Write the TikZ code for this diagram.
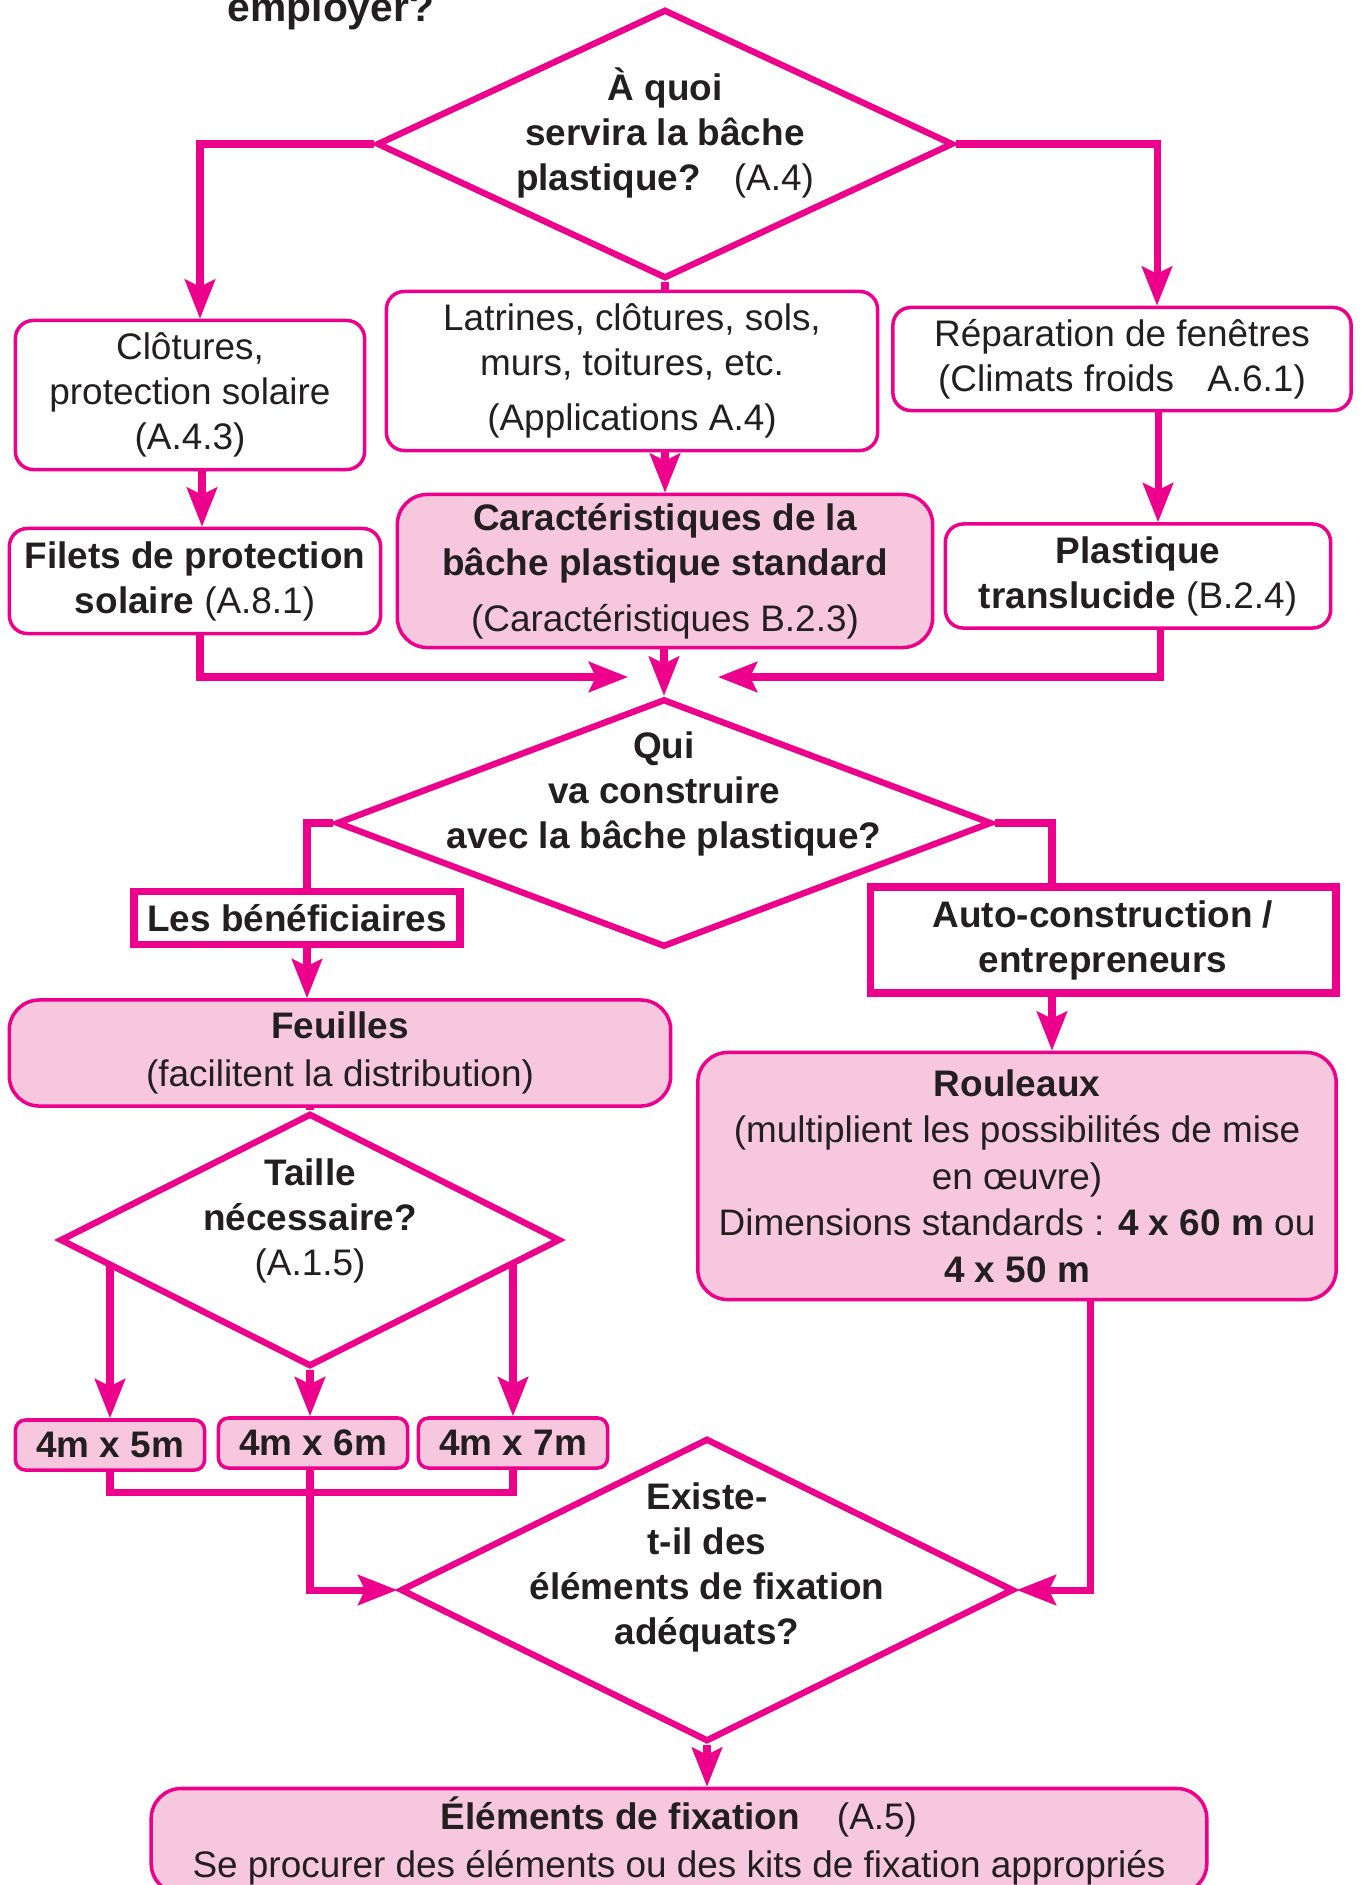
\documentclass[tikz,border=0pt]{standalone}
\usepackage{fontspec}
\setmainfont{Liberation Sans}
\usetikzlibrary{shapes.geometric,arrows.meta,backgrounds}
\definecolor{magline}{RGB}{236,0,140}
\definecolor{magfill}{RGB}{247,200,221}
\definecolor{ink}{RGB}{35,31,32}

\begin{document}
\begin{tikzpicture}[x=0.01cm, y=-0.01cm,
        every node/.style = {text=ink, font=\fontsize{10.5}{12.8}\selectfont},
        link/.style = {draw=magline, line width=2pt},
        arrow/.style = {link, -{Stealth[length=3.9mm,width=3mm,inset=0.7mm]}},
        question/.style = {diamond, draw=magline, fill=white, line width=1.8pt, inner sep=0pt},
        qtext/.style = {align=center, inner sep=0pt, font=\fontsize{10.5}{12.8}\selectfont\bfseries},
        plainbox/.style = {rectangle, rounded corners=1.8mm, draw=magline, fill=white, line width=1pt, align=center, inner sep=2pt},
        pinkbox/.style = {plainbox, fill=magfill, rounded corners=3mm},
        sizebox/.style = {plainbox, fill=magfill, rounded corners=1mm, inner sep=1pt, minimum width=1.89cm, minimum height=0.5cm, font=\fontsize{10.5}{12.8}\selectfont\bfseries},
        choice/.style = {rectangle, draw=magline, fill=white, line width=2.2pt, align=center, inner sep=1pt}]
    \useasboundingbox (0,0) rectangle (1360,1885);

    \node[anchor=base, font=\fontsize{11.6}{14}\selectfont\bfseries] (title) at (331,22) {employer?};

    \node[question, minimum width=5.76cm, minimum height=2.69cm,
        label={[qtext,yshift=1.15mm]center:À quoi\\servira la bâche\\plastique?\hspace{0.9em}\textmd{(A.4)}}] (usage) at (665,144) {};
    \node[plainbox, minimum width=3.49cm, minimum height=1.49cm] (cloture) at (190,395)
        {Clôtures,\\protection solaire\\(A.4.3)};
    \node[plainbox, minimum width=4.91cm, minimum height=1.59cm] (latrine) at (632,371)
        {Latrines, clôtures, sols,\\murs, toitures, etc.\\[3pt](Applications A.4)};
    \node[plainbox, minimum width=4.58cm, minimum height=1.03cm] (repair) at (1122,359)
        {Réparation de fenêtres\\(Climats froids\hspace{0.9em}A.6.1)};
    \node[plainbox, minimum width=3.71cm, minimum height=1.05cm] (filets) at (195,581)
        {\textbf{Filets de protection}\\\textbf{solaire} (A.8.1)};
    \node[pinkbox, minimum width=5.35cm, minimum height=1.53cm] (charact) at (665,571)
        {\textbf{Caractéristiques de la}\\\textbf{bâche plastique standard}\\[3pt](Caractéristiques B.2.3)};
    \node[plainbox, minimum width=3.85cm, minimum height=1.04cm] (transl) at (1138,576)
        {\textbf{Plastique}\\\textbf{translucide} (B.2.4)};
    \coordinate (mergeL) at (628,677);
    \coordinate (mergeR) at (718,677);

    \node[question, minimum width=6.55cm, minimum height=2.48cm,
        label={[qtext,yshift=2.9mm]center:Qui\\va construire\\avec la bâche plastique?}] (builder) at (664,823) {};
    \node[choice, minimum width=3.26cm, minimum height=0.53cm] (benef) at (297,918)
        {\textbf{Les bénéficiaires}};
    \node[choice, minimum width=4.65cm, minimum height=1.06cm] (auto) at (1103,940)
        {\textbf{Auto-construction /}\\\textbf{entrepreneurs}};
    \node[pinkbox, minimum width=6.61cm, minimum height=1.06cm] (sheets) at (340,1053)
        {\textbf{Feuilles}\\[1pt](facilitent la distribution)};
    \node[pinkbox, minimum width=6.38cm, minimum height=2.47cm, font=\fontsize{10.5}{13.2}\selectfont] (rolls) at (1017,1176)
        {\textbf{Rouleaux}\\(multiplient les possibilités de mise\\en œuvre)\\Dimensions standards : \textbf{4 x 60 m} ou\\\textbf{4 x 50 m}};

    \node[question, minimum width=5cm, minimum height=2.53cm,
        label={[qtext,yshift=1.9mm]center:Taille\\nécessaire?\\\textmd{(A.1.5)}}] (size) at (310,1240) {};
    \node[sizebox] (s5) at (110,1445) {4m x 5m};
    \node[sizebox] (s6) at (313,1443) {4m x 6m};
    \node[sizebox] (s7) at (513,1443) {4m x 7m};

    \node[question, minimum width=6.13cm, minimum height=3.03cm,
        label={[qtext,yshift=2.3mm]center:Existe-\\t-il des\\éléments de fixation\\adéquats?}] (fixq) at (707,1590) {};
    \node[pinkbox, minimum width=10.55cm, minimum height=1.05cm] (fixing) at (679,1841)
        {\textbf{Éléments de fixation}\hspace{1em}(A.5)\\[1pt]Se procurer des éléments ou des kits de fixation appropriés};

    \begin{scope}[on background layer]
        \draw[arrow] (usage.west) -| ([xshift=1mm]cloture.north);
        \draw[link] (usage.south) -- (usage.south |- latrine.north);
        \draw[arrow] (usage.east) -| ([xshift=3.5mm]repair.north);
        \draw[arrow] ([xshift=1.2mm]cloture.south) -- ([xshift=1.2mm]cloture.south |- filets.north);
        \draw[arrow] (usage.south |- latrine.south) -- (usage.south |- charact.north);
        \draw[arrow] ([xshift=3.6mm]repair.south) -- ([xshift=3.6mm]repair.south |- transl.north);
        \draw[arrow] ([xshift=0.5mm]filets.south) |- (mergeL);
        \draw[arrow] (charact.south -| builder.north) -- (builder.north);
        \draw[arrow] ([xshift=2.2mm]transl.south) |- (mergeR);
        \draw[link] (builder.west) -| ([xshift=1mm]benef.north);
        \draw[arrow] ([xshift=1mm]benef.south) -- ([xshift=1mm]benef.south |- sheets.north);
        \draw[link] (builder.east) -| ([xshift=-5.1mm]auto.north);
        \draw[arrow] ([xshift=-5.1mm]auto.south) -- ([xshift=-5.1mm]auto.south |- rolls.north);
        \draw[link] (sheets.south -| size.north) -- (size.north);
        \draw[arrow] (s5.north |- size.center) -- (s5.north);
        \draw[arrow] (size.south) -- (size.south |- s6.north);
        \draw[arrow] (s7.north |- size.center) -- (s7.north);
        \draw[link] (s5.south) |- ([yshift=-2.3mm]s6.south) -| (s7.south);
        \draw[arrow] (s6.south -| size.south) |- (fixq.west);
        \draw[arrow] ([xshift=7.35mm]rolls.south) |- (fixq.east);
        \draw[arrow] (fixq.south) -- (fixq.south |- fixing.north);
    \end{scope}
\end{tikzpicture}
\end{document}
